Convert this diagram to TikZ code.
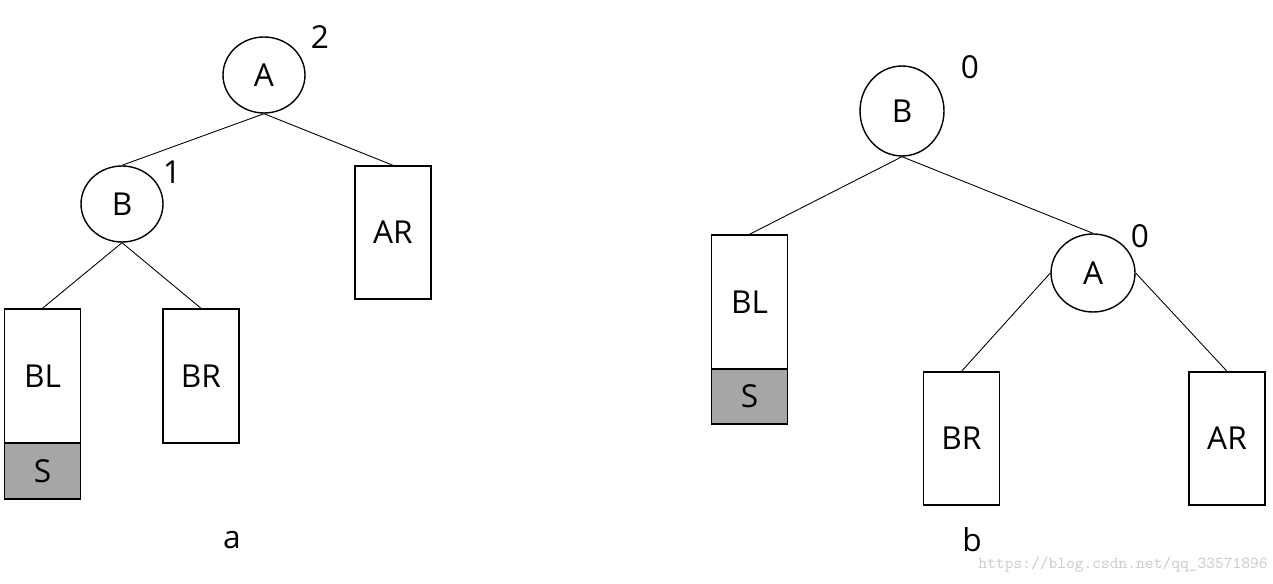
\documentclass[tikz,border=0pt]{standalone}
\usepackage{fontspec}
\setmainfont{Open Sans}
\usetikzlibrary{shapes.geometric}
\begin{document}
\begin{tikzpicture}[x=0.02cm,y=-0.02cm,
  el/.style={draw,thick,ellipse,inner sep=0pt,font=\fontsize{18}{20}\selectfont},
  bx/.style={draw,thick,rectangle,inner sep=0pt,minimum width=1.52cm,font=\fontsize{18}{20}\selectfont},
  lab/.style={font=\fontsize{18}{20}\selectfont},
  ln/.style={draw,line width=0.5pt}]
\useasboundingbox (0,0) rectangle (1273,584);
% tree a
\node[el,minimum width=1.64cm,minimum height=1.52cm] (A1) at (264,75) {A};
\node[lab] (n2) at (320,37) {2};
\node[el,minimum width=1.64cm,minimum height=1.52cm] (B1) at (122,204) {B};
\node[lab] (n1) at (172,172) {1};
\node[bx,minimum height=2.66cm] (AR1) at (393,232.5) {AR};
\node[bx,minimum height=2.68cm] (BL1) at (42.5,376) {BL};
\node[bx,minimum height=1.12cm,fill=gray!70] (S1) at (42.5,471) {S};
\node[bx,minimum height=2.68cm] (BR1) at (201,376) {BR};
\draw[ln] (A1.south) -- (B1.north);
\draw[ln] (A1.south) -- (AR1.north);
\draw[ln] (B1.south) -- (BL1.north);
\draw[ln] (B1.south) -- (BR1.north);
\node[lab] (la) at (232,540) {a};
% tree b
\node[el,minimum width=1.68cm,minimum height=1.8cm] (B2) at (902,111) {B};
\node[lab] (n0a) at (970,67) {0};
\node[bx,minimum height=2.68cm] (BL2) at (749.5,302) {BL};
\node[bx,minimum height=1.1cm,fill=gray!70] (S2) at (749.5,396.5) {S};
\node[el,minimum width=1.68cm,minimum height=1.56cm] (A2) at (1093,273) {A};
\node[lab] (n0b) at (1140,236) {0};
\node[bx,minimum height=2.66cm] (BR2) at (961.5,438.5) {BR};
\node[bx,minimum height=2.66cm] (AR2) at (1227,438.5) {AR};
\draw[ln] (B2.south) -- (BL2.north);
\draw[ln] (B2.south) -- (A2.north);
\draw[ln] (A2.west) -- (BR2.north);
\draw[ln] (A2.east) -- (AR2.north);
\node[lab] (lb) at (972,540) {b};
\node[anchor=east,inner sep=0pt,font=\ttfamily\fontsize{9.5}{11}\selectfont,text=gray!40] (wm) at (1268,565) {https://blog.csdn.net/qq\_33571896};
\end{tikzpicture}
\end{document}
